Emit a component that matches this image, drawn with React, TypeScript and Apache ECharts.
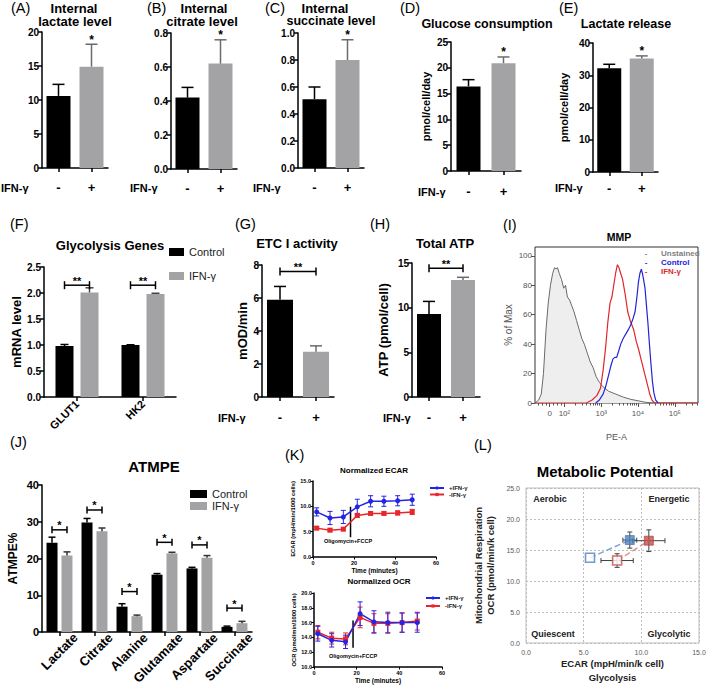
import React, { useEffect, useRef } from 'react';
import * as echarts from 'echarts';

const FAMILY = 'Liberation Sans';
const FONT_STACK = '"Liberation Sans", Arial, sans-serif';
const BLACK = '#000000';
const GREY = '#a3a3a5';
const GREY_ERR = '#6b6b6d';
const FLOW_BLUE = '#2323d8';
const FLOW_RED = '#e2262b';
const K_BLUE = '#2424e6';
const K_RED = '#e8262b';
const L_BLUE = '#4f81bd';
const L_RED = '#c0504d';

// ---------- (A)-(E) ----------
const treatment = ['-', '+'];
const lactateLevel = [10.6, 14.9];
const lactateLevelTop = [12.3, 18.2];
const citrateLevel = [0.42, 0.62];
const citrateLevelTop = [0.48, 0.76];
const succinateLevel = [0.51, 0.8];
const succinateLevelTop = [0.6, 0.95];
const glucoseConsumption = [16.4, 20.9];
const glucoseConsumptionTop = [17.7, 22.1];
const lactateRelease = [32.2, 35.2];
const lactateReleaseTop = [33.4, 36.0];
const singleStars = ['', '*'];

// ---------- (F) ----------
const genes = ['GLUT1', 'HK2'];
const geneControl = [0.98, 1.0];
const geneControlTop = [1.01, 1.005];
const geneIFN = [2.01, 1.98];
const geneIFNTop = [2.1, 1.995];
const geneBracket = [2.15, 2.15];
const geneMarks = ['**', '**'];

// ---------- (G) / (H) ----------
const etcActivity = [5.9, 2.75];
const etcActivityTop = [6.7, 3.1];
const etcBracket = 7.6;
const totalATP = [9.3, 13.1];
const totalATPTop = [10.7, 13.4];
const atpBracket = 14.4;

// ---------- (I) MMP histogram (x = display decade position) ----------
const flowTickPos = [1.6, 2, 3, 4, 5];
const flowTickLabel = ['0', '10²', '10³', '10⁴', '10⁵'];
const unstainedX = [1.2, 1.3, 1.37, 1.43, 1.5, 1.56, 1.62, 1.68, 1.73, 1.77, 1.81, 1.86, 1.92, 1.98, 2.03, 2.08, 2.14, 2.2, 2.26, 2.33, 2.4, 2.47, 2.54, 2.62, 2.7, 2.78, 2.86, 2.95, 3.05, 3.2, 3.4, 3.6, 3.8, 4.0, 4.2, 4.4];
const unstainedY = [0, 2, 6, 20, 50, 68, 80, 88, 92, 91, 92, 88, 84, 78, 80, 72, 70, 66, 62, 56, 50, 44, 40, 34, 28, 24, 18, 14, 11, 8, 6, 4, 2.5, 1.5, 0.5, 0];
const ifnFlowX = [1.2, 2.6, 2.75, 2.88, 2.98, 3.05, 3.12, 3.18, 3.24, 3.29, 3.34, 3.39, 3.44, 3.48, 3.53, 3.58, 3.65, 3.72, 3.8, 3.88, 3.95, 4.02, 4.1, 4.18, 4.25, 4.32, 4.38, 4.45, 5.63];
const ifnFlowY = [0, 0, 2, 5, 10, 22, 38, 55, 68, 72, 80, 88, 94, 92, 88, 84, 74, 62, 55, 50, 42, 36, 28, 20, 13, 6, 2, 0, 0];
const controlFlowX = [2.85, 2.95, 3.05, 3.12, 3.2, 3.27, 3.32, 3.37, 3.42, 3.47, 3.53, 3.6, 3.67, 3.74, 3.8, 3.86, 3.92, 3.97, 4.01, 4.05, 4.09, 4.12, 4.15, 4.19, 4.23, 4.27, 4.31, 4.35, 4.39, 4.43, 4.48, 4.55];
const controlFlowY = [0, 2, 6, 11, 19, 26, 30, 31, 31, 35, 40, 44, 47, 50, 53, 57, 62, 72, 82, 88, 91, 88, 84, 78, 66, 54, 40, 27, 15, 7, 2, 0];

// ---------- (J) ATMPE ----------
const metabolites = ['Lactate', 'Citrate', 'Alanine', 'Glutamate', 'Aspartate', 'Succinate'];
const atmpeControl = [24.3, 29.8, 6.9, 15.6, 17.3, 1.4];
const atmpeControlTop = [25.8, 30.9, 7.7, 15.9, 17.6, 1.6];
const atmpeIFN = [20.8, 27.4, 4.3, 21.4, 20.2, 2.4];
const atmpeIFNTop = [21.8, 28.3, 4.6, 21.7, 20.8, 2.9];
const atmpeBracket = [27.8, 33.2, 11.0, 24.4, 23.7, 6.5];
const atmpeMarks = ['*', '*', '*', '*', '*', '*'];

// ---------- (K) Seahorse ----------
const seahorseTime = [1.8, 8.3, 14.8, 21.6, 28.1, 34.6, 41.3, 48.4];
const ecarPlus = [8.9, 7.7, 7.9, 9.9, 11.0, 11.0, 11.1, 11.3];
const ecarPlusSd = [0.8, 1.3, 1.3, 1.5, 1.1, 1.0, 1.0, 1.1];
const ecarMinus = [5.7, 5.3, 5.5, 8.2, 8.6, 8.6, 8.7, 8.9];
const ecarMinusSd = [0.3, 0.3, 0.3, 0.4, 0.3, 0.3, 0.4, 0.5];
const ocrPlus = [14.5, 13.6, 13.4, 17.2, 16.1, 16.0, 16.0, 16.0];
const ocrPlusSd = [1.0, 0.9, 0.9, 1.6, 1.5, 1.4, 1.3, 1.3];
const ocrMinus = [14.7, 13.9, 13.8, 16.7, 15.9, 15.9, 16.0, 16.2];
const ocrMinusSd = [0.9, 0.8, 0.8, 1.4, 1.3, 1.3, 1.3, 1.2];
const injectionTime = 18.3;
const ecarInjection = [3.9, 9.9];
const ocrInjection = [12.6, 16.3];

// ---------- (L) Metabolic potential [ECAR, OCR] ----------
const blueBaseline = [5.55, 13.75];
const blueStressed = [9.0, 16.6];
const blueStressedErr = [0.6, 1.3];
const redBaseline = [7.9, 13.3];
const redBaselineErr = [1.4, 1.1];
const redStressed = [10.65, 16.5];
const redStressedErr = [1.4, 1.75];

function buildOption(): any {
  const grid: any[] = [];
  const xAxis: any[] = [];
  const yAxis: any[] = [];
  const series: any[] = [];
  const legend: any[] = [];
  const graphic: any[] = [];

  const addGrid = (box: any, xa: any, ya: any) => {
    const gridIndex = grid.length;
    grid.push({ show: false, ...box });
    const xi = xAxis.length;
    xAxis.push({ ...xa, gridIndex });
    const yi = yAxis.length;
    yAxis.push({ ...ya, gridIndex });
    return { xi, yi, gridIndex };
  };

  const lineEl = (x1: number, y1: number, x2: number, y2: number, stroke: string, lineWidth = 1.5) => ({
    type: 'line', shape: { x1, y1, x2, y2 }, style: { stroke, lineWidth },
  });
  const textEl = (x: number, y: number, s: string, size: number, color = BLACK) => ({
    type: 'text', x, y,
    style: { text: s, fill: color, font: `bold ${size}px ${FONT_STACK}`, align: 'center', verticalAlign: 'middle', textAlign: 'center', textVerticalAlign: 'middle' },
  });
  const txt = (x: number, y: number, s: string, size: number, weight = 'bold', align = 'center', color = BLACK) => ({
    type: 'text', x, y, silent: true, z: 20,
    style: { text: s, fill: color, font: `${weight} ${size}px ${FONT_STACK}`, align, verticalAlign: 'middle', textAlign: align, textVerticalAlign: 'middle' },
  });

  const gpYAxis = (min: number, max: number, interval: number, dec: number, fontSize = 10, name = '', nameGap = 0, nameSize = 13) => ({
    type: 'value', min, max, interval,
    axisLine: { show: true, lineStyle: { color: BLACK, width: 1.5 } },
    axisTick: { show: true, length: 4, lineStyle: { color: BLACK, width: 1.5 } },
    axisLabel: { fontFamily: FAMILY, fontWeight: 'bold', fontSize, color: BLACK, margin: 3, formatter: (v: number) => v.toFixed(dec) },
    splitLine: { show: false },
    name, nameLocation: 'middle', nameGap, nameRotate: 90,
    nameTextStyle: { fontFamily: FAMILY, fontWeight: 'bold', fontSize: nameSize, color: BLACK },
  });
  const gpXAxis = (data: string[], fontSize: number, margin: number, rotate = 0, showLabel = true) => ({
    type: 'category', data,
    axisLine: { show: true, onZero: false, lineStyle: { color: BLACK, width: 1.5 } },
    axisTick: { show: true, alignWithLabel: true, length: 4, lineStyle: { color: BLACK, width: 1.5 } },
    axisLabel: { show: showLabel, fontFamily: FAMILY, fontWeight: 'bold', fontSize, color: BLACK, margin, rotate, interval: 0 },
    splitLine: { show: false },
  });

  const upErr = (ax: any, values: number[], tops: number[], offset: number, cap: number, colors: string[], marks?: string[]) => ({
    type: 'custom', xAxisIndex: ax.xi, yAxisIndex: ax.yi, silent: true, z: 3,
    encode: { x: 0, y: [1, 2] },
    data: values.map((v, i) => [i, v, tops[i]]),
    renderItem: (params: any, api: any) => {
      const i = params.dataIndex;
      const base = api.coord([api.value(0), api.value(1)]);
      const top = api.coord([api.value(0), api.value(2)]);
      const cx = base[0] + offset;
      const children: any[] = [
        lineEl(cx, base[1], cx, top[1], colors[i]),
        lineEl(cx - cap / 2, top[1], cx + cap / 2, top[1], colors[i]),
      ];
      if (marks && marks[i]) children.push(textEl(cx, top[1] - 4.5, marks[i], 12));
      return { type: 'group', children };
    },
  });

  const brackets = (ax: any, spans: number[][], off1: number, off2: number, marks: string[], tick: number, markSize: number) => ({
    type: 'custom', xAxisIndex: ax.xi, yAxisIndex: ax.yi, silent: true, z: 3,
    encode: { x: [0, 1], y: 2 },
    data: spans,
    renderItem: (params: any, api: any) => {
      const a = api.coord([api.value(0), api.value(2)]);
      const b = api.coord([api.value(1), api.value(2)]);
      const x1 = a[0] + off1;
      const x2 = b[0] + off2;
      const y = a[1];
      return {
        type: 'group',
        children: [
          lineEl(x1, y, x2, y, BLACK),
          lineEl(x1, y - tick, x1, y + tick, BLACK),
          lineEl(x2, y - tick, x2, y + tick, BLACK),
          textEl((x1 + x2) / 2, y - 4.5, marks[params.dataIndex], markSize),
        ],
      };
    },
  });

  // ---------- A-E ----------
  const simplePanels = [
    { box: { left: 42, top: 32, width: 66, height: 136 }, max: 20, int: 5, dec: 0, v: lactateLevel, t: lactateLevelTop, margin: 13, name: '', gap: 0 },
    { box: { left: 171, top: 33, width: 66, height: 136 }, max: 0.8, int: 0.2, dec: 1, v: citrateLevel, t: citrateLevelTop, margin: 13, name: '', gap: 0 },
    { box: { left: 298, top: 33, width: 66, height: 135 }, max: 1.0, int: 0.2, dec: 1, v: succinateLevel, t: succinateLevelTop, margin: 13, name: '', gap: 0 },
    { box: { left: 451, top: 42, width: 70, height: 129 }, max: 25, int: 5, dec: 0, v: glucoseConsumption, t: glucoseConsumptionTop, margin: 14, name: 'pmol/cell/day', gap: 20 },
    { box: { left: 593, top: 43, width: 65, height: 129 }, max: 40, int: 10, dec: 0, v: lactateRelease, t: lactateReleaseTop, margin: 10, name: 'pmol/cell/day', gap: 24 },
  ];
  simplePanels.forEach((p) => {
    const ax = addGrid(p.box, gpXAxis(treatment, 13, p.margin), gpYAxis(0, p.max, p.int, p.dec, 10, p.name, p.gap, 11));
    series.push({
      type: 'bar', xAxisIndex: ax.xi, yAxisIndex: ax.yi, barWidth: 24,
      data: p.v.map((v, i) => ({ value: v, itemStyle: { color: i === 0 ? BLACK : GREY } })),
    });
    series.push(upErr(ax, p.v, p.t, 0, 12, [BLACK, GREY_ERR], singleStars));
  });

  // ---------- F ----------
  const f = addGrid({ left: 44, top: 267, width: 132, height: 130 }, gpXAxis(genes, 11, 5, 45), gpYAxis(0, 2.5, 0.5, 1, 10, 'mRNA level', 17, 13));
  series.push({ type: 'bar', name: 'Control', xAxisIndex: f.xi, yAxisIndex: f.yi, data: geneControl, barWidth: 18, barGap: '39%', itemStyle: { color: BLACK } });
  series.push({ type: 'bar', name: 'IFN-γ', xAxisIndex: f.xi, yAxisIndex: f.yi, data: geneIFN, barWidth: 18, barGap: '39%', itemStyle: { color: GREY } });
  series.push(upErr(f, geneControl, geneControlTop, -12.5, 8, [BLACK, BLACK]));
  series.push(upErr(f, geneIFN, geneIFNTop, 12.5, 8, ['#444', '#444']));
  series.push(brackets(f, genes.map((_, i) => [i, i, geneBracket[i]]), -12.5, 12.5, geneMarks, 4, 11));
  legend.push({
    left: 169, top: 246.5, orient: 'vertical', padding: 0, itemWidth: 15, itemHeight: 8, itemGap: 13, icon: 'rect', selectedMode: false,
    textStyle: { fontFamily: FAMILY, fontSize: 11, color: '#222' }, data: ['Control', 'IFN-γ'],
  });

  // ---------- G ----------
  const g = addGrid({ left: 262, top: 265, width: 72, height: 132 }, gpXAxis(treatment, 13, 14), gpYAxis(0, 8, 2, 0, 10, 'mOD/min', 13.5, 13));
  series.push({ type: 'bar', xAxisIndex: g.xi, yAxisIndex: g.yi, barWidth: 26, data: etcActivity.map((v, i) => ({ value: v, itemStyle: { color: i === 0 ? BLACK : GREY } })) });
  series.push(upErr(g, etcActivity, etcActivityTop, 0, 12, [BLACK, GREY_ERR]));
  series.push(brackets(g, [[0, 1, etcBracket]], 0, 0, ['**'], 4, 11));

  // ---------- H ----------
  const h = addGrid({ left: 412, top: 263, width: 68, height: 134 }, gpXAxis(treatment, 13, 14), gpYAxis(0, 15, 5, 0, 10, 'ATP (pmol/cell)', 22, 13));
  series.push({ type: 'bar', xAxisIndex: h.xi, yAxisIndex: h.yi, barWidth: 24, data: totalATP.map((v, i) => ({ value: v, itemStyle: { color: i === 0 ? BLACK : GREY } })) });
  series.push(upErr(h, totalATP, totalATPTop, 0, 12, [BLACK, GREY_ERR]));
  series.push(brackets(h, [[0, 1, atpBracket]], 0, 0, ['**'], 4, 11));

  // ---------- I ----------
  const minorTicks: number[] = [1.3, 1.4, 1.5, 1.7, 1.8, 1.9];
  for (let n = 2; n <= 5; n++) for (let k = 2; k <= 9; k++) { const p = n + Math.log10(k); if (p < 5.62) minorTicks.push(p); }
  const flowFmt = (v: number) => { const i = flowTickPos.findIndex((p) => Math.abs(p - v) < 1e-6); return i >= 0 ? flowTickLabel[i] : ''; };
  const iAx = addGrid(
    { left: 535, top: 247, width: 163, height: 156, show: true, borderColor: '#333', borderWidth: 1 },
    {
      type: 'value', min: 1.2, max: 5.63, position: 'bottom',
      axisLine: { show: false },
      axisTick: { show: true, length: 4, customValues: flowTickPos, lineStyle: { color: '#555' } },
      axisLabel: { customValues: flowTickPos, formatter: flowFmt, fontFamily: FAMILY, fontSize: 8, color: '#555', margin: 6 },
      splitLine: { show: false },
      name: 'PE-A', nameLocation: 'middle', nameGap: 29, nameTextStyle: { fontFamily: FAMILY, fontSize: 9, color: '#555' },
    },
    {
      type: 'value', min: 0, max: 106,
      axisLine: { show: false },
      axisTick: { show: true, length: 4, customValues: [0, 20, 40, 60, 80, 100], lineStyle: { color: '#555' } },
      axisLabel: { customValues: [0, 20, 40, 60, 80, 100], fontFamily: FAMILY, fontSize: 8, color: '#555', margin: 3 },
      splitLine: { show: false },
      name: '% of Max', nameLocation: 'middle', nameGap: 22, nameRotate: 90, nameTextStyle: { fontFamily: FAMILY, fontSize: 10, color: '#555' },
    },
  );
  xAxis.push({
    type: 'value', min: 1.2, max: 5.63, position: 'bottom', gridIndex: iAx.gridIndex,
    axisLine: { show: false }, axisLabel: { show: false }, splitLine: { show: false },
    axisTick: { show: true, length: 2.5, customValues: minorTicks, lineStyle: { color: '#555' } },
  });
  series.push({
    type: 'line', name: 'MMP Unstained', xAxisIndex: iAx.xi, yAxisIndex: iAx.yi, showSymbol: false, symbol: 'none',
    data: unstainedX.map((x, i) => [x, unstainedY[i]]),
    lineStyle: { color: '#6a6a6a', width: 1 }, areaStyle: { color: '#eeeeee', opacity: 1 },
  });
  series.push({
    type: 'line', name: 'MMP IFN', xAxisIndex: iAx.xi, yAxisIndex: iAx.yi, symbol: 'none',
    data: ifnFlowX.map((x, i) => [x, ifnFlowY[i]]), lineStyle: { color: FLOW_RED, width: 1.2 },
  });
  series.push({
    type: 'line', name: 'MMP Control', xAxisIndex: iAx.xi, yAxisIndex: iAx.yi, symbol: 'none',
    data: controlFlowX.map((x, i) => [x, controlFlowY[i]]), lineStyle: { color: FLOW_BLUE, width: 1.2 },
  });

  // ---------- J ----------
  const j = addGrid({ left: 42, top: 485, width: 210, height: 147 }, gpXAxis(metabolites, 12, 5, 45, false), gpYAxis(0, 40, 10, 0, 11, 'ATMPE%', 23, 12));
  series.push({ type: 'bar', name: 'Control', xAxisIndex: j.xi, yAxisIndex: j.yi, data: atmpeControl, barWidth: 11, barGap: '36%', itemStyle: { color: BLACK } });
  series.push({ type: 'bar', name: 'IFN-γ', xAxisIndex: j.xi, yAxisIndex: j.yi, data: atmpeIFN, barWidth: 11, barGap: '36%', itemStyle: { color: GREY } });
  series.push(upErr(j, atmpeControl, atmpeControlTop, -7.5, 7, metabolites.map(() => BLACK)));
  series.push(upErr(j, atmpeIFN, atmpeIFNTop, 7.5, 7, metabolites.map(() => '#333')));
  series.push(brackets(j, metabolites.map((_, i) => [i, i, atmpeBracket[i]]), -7.5, 7.5, atmpeMarks, 3.5, 11));
  // label-only category axis, offset to the right as in the GraphPad layout
  addGrid(
    { left: 58, top: 485, width: 210, height: 147 },
    {
      type: 'category', data: metabolites,
      axisLine: { show: false }, axisTick: { show: false }, splitLine: { show: false },
      axisLabel: { fontFamily: FAMILY, fontWeight: 'bold', fontSize: 13, color: BLACK, margin: 5, rotate: 45, interval: 0 },
    },
    { type: 'value', min: 0, max: 40, show: false },
  );
  legend.push({
    left: 190, top: 488, orient: 'vertical', padding: 0, itemWidth: 17, itemHeight: 8, itemGap: 0, icon: 'rect', selectedMode: false,
    textStyle: { fontFamily: FAMILY, fontSize: 11, lineHeight: 12, color: '#222' }, data: ['Control', 'IFN-γ'],
  });

  // ---------- K ----------
  const kX = (gap: number) => ({
    type: 'value', min: 0, max: 60, interval: 20,
    axisLine: { show: true, onZero: false, lineStyle: { color: BLACK, width: 1.5 } },
    axisTick: { show: true, length: 2.5, lineStyle: { color: BLACK, width: 1 } },
    axisLabel: { fontFamily: FAMILY, fontWeight: 'bold', fontSize: 5.5, color: BLACK, margin: 3 },
    splitLine: { show: false },
    name: 'Time (minutes)', nameLocation: 'middle', nameGap: gap,
    nameTextStyle: { fontFamily: FAMILY, fontWeight: 'bold', fontSize: 6.5, color: BLACK },
  });
  const kY = (min: number, max: number, interval: number, name: string) => ({
    type: 'value', min, max, interval,
    axisLine: { show: true, lineStyle: { color: BLACK, width: 1.5 } },
    axisTick: { show: true, length: 2.5, lineStyle: { color: BLACK, width: 1 } },
    axisLabel: { fontFamily: FAMILY, fontWeight: 'bold', fontSize: 5.5, color: BLACK, margin: 2, formatter: (v: number) => v.toFixed(1) },
    splitLine: { show: false },
    name, nameLocation: 'middle', nameGap: 15, nameRotate: 90,
    nameTextStyle: { fontFamily: FAMILY, fontWeight: 'bold', fontSize: 5.8, color: BLACK },
  });
  const symErr = (ax: any, xs: number[], vals: number[], sds: number[], color: string) => ({
    type: 'custom', xAxisIndex: ax.xi, yAxisIndex: ax.yi, silent: true, z: 2,
    encode: { x: 0, y: [1, 2] },
    data: xs.map((t, i) => [t, vals[i] - sds[i], vals[i] + sds[i]]),
    renderItem: (params: any, api: any) => {
      const lo = api.coord([api.value(0), api.value(1)]);
      const hi = api.coord([api.value(0), api.value(2)]);
      return {
        type: 'group',
        children: [
          lineEl(lo[0], lo[1], hi[0], hi[1], color, 1),
          lineEl(lo[0] - 2.5, lo[1], lo[0] + 2.5, lo[1], color, 1),
          lineEl(hi[0] - 2.5, hi[1], hi[0] + 2.5, hi[1], color, 1),
        ],
      };
    },
  });
  const kLine = (ax: any, name: string, xs: number[], vals: number[], color: string, symbol: string) => ({
    type: 'line', name, xAxisIndex: ax.xi, yAxisIndex: ax.yi, z: 4,
    data: xs.map((t, i) => [t, vals[i]]), symbol, symbolSize: 5, showSymbol: true,
    lineStyle: { color, width: 1.5 }, itemStyle: { color },
  });
  const e1 = addGrid({ left: 313, top: 481, width: 123, height: 76 }, kX(8), kY(0, 15, 5, 'ECAR (mpH/min/1000 cells)'));
  series.push(symErr(e1, seahorseTime, ecarMinus, ecarMinusSd, K_RED));
  series.push(symErr(e1, seahorseTime, ecarPlus, ecarPlusSd, K_BLUE));
  series.push(kLine(e1, '-IFN-γ', seahorseTime, ecarMinus, K_RED, 'rect'));
  series.push(kLine(e1, '+IFN-γ', seahorseTime, ecarPlus, K_BLUE, 'circle'));
  series.push({
    type: 'line', name: 'ECAR injection', xAxisIndex: e1.xi, yAxisIndex: e1.yi, symbol: 'none',
    data: ecarInjection.map((v) => [injectionTime, v]), lineStyle: { color: BLACK, width: 1.5 },
  });
  const o1 = addGrid({ left: 314, top: 593, width: 128, height: 74 }, kX(9), kY(10, 20, 2, 'OCR (pmol/min/1000 cells)'));
  series.push(symErr(o1, seahorseTime, ocrMinus, ocrMinusSd, K_RED));
  series.push(symErr(o1, seahorseTime, ocrPlus, ocrPlusSd, K_BLUE));
  series.push(kLine(o1, '-IFN-γ', seahorseTime, ocrMinus, K_RED, 'rect'));
  series.push(kLine(o1, '+IFN-γ', seahorseTime, ocrPlus, K_BLUE, 'circle'));
  series.push({
    type: 'line', name: 'OCR injection', xAxisIndex: o1.xi, yAxisIndex: o1.yi, symbol: 'none',
    data: ocrInjection.map((v) => [injectionTime, v]), lineStyle: { color: BLACK, width: 1.5 },
  });
  const kLegend = (left: number, top: number, gap: number) => ({
    left, top, orient: 'vertical', padding: 0, itemWidth: 14, itemHeight: 4, itemGap: gap, selectedMode: false,
    textStyle: { fontFamily: FAMILY, fontWeight: 'bold', fontSize: 6, lineHeight: 6, color: '#222' }, data: ['+IFN-γ', '-IFN-γ'],
  });
  legend.push(kLegend(429, 485, 0.5));
  legend.push(kLegend(425, 595, 2));

  // ---------- L ----------
  const l = addGrid(
    { left: 526, top: 488, width: 173, height: 155, show: true, borderColor: '#bfbfbf', borderWidth: 1 },
    {
      type: 'value', min: 0, max: 15, interval: 5,
      axisLine: { show: false }, axisTick: { show: false },
      axisLabel: { fontFamily: FAMILY, fontSize: 7, color: '#595959', margin: 6, formatter: (v: number) => v.toFixed(1) },
      splitLine: { show: true, lineStyle: { color: '#bdbdbd', type: [2, 2], width: 1 } },
      name: 'ECAR (mpH/min/k cell)\nGlycolysis', nameLocation: 'middle', nameGap: 13,
      nameTextStyle: { fontFamily: FAMILY, fontWeight: 'bold', fontSize: 9.5, lineHeight: 14, color: '#222' },
    },
    {
      type: 'value', min: 0, max: 25, interval: 5,
      axisLine: { show: false }, axisTick: { show: false },
      axisLabel: { fontFamily: FAMILY, fontSize: 7, color: '#595959', margin: 6, formatter: (v: number) => v.toFixed(1) },
      splitLine: { show: true, lineStyle: { color: '#bdbdbd', type: [2, 2], width: 1 } },
      name: 'Mitochondrial Respiration\nOCR (pmol/min/k cell)', nameLocation: 'middle', nameGap: 30, nameRotate: 90,
      nameTextStyle: { fontFamily: FAMILY, fontWeight: 'bold', fontSize: 9.5, lineHeight: 12, color: '#222' },
    },
  );
  series.push({
    type: 'line', name: 'L blue path', xAxisIndex: l.xi, yAxisIndex: l.yi, symbol: 'none',
    data: [blueBaseline, blueStressed], lineStyle: { color: '#7ea4d4', type: 'dashed', width: 1.5 },
  });
  series.push({
    type: 'line', name: 'L red path', xAxisIndex: l.xi, yAxisIndex: l.yi, symbol: 'none',
    data: [redBaseline, redStressed], lineStyle: { color: '#d99795', type: 'dashed', width: 1.5 },
  });
  const lErrPts = [
    [blueStressed[0], blueStressed[1], blueStressedErr[0], blueStressedErr[1]],
    [redBaseline[0], redBaseline[1], redBaselineErr[0], redBaselineErr[1]],
    [redStressed[0], redStressed[1], redStressedErr[0], redStressedErr[1]],
  ];
  series.push({
    type: 'custom', xAxisIndex: l.xi, yAxisIndex: l.yi, silent: true, z: 3,
    encode: { x: 0, y: 1 },
    data: lErrPts,
    renderItem: (params: any, api: any) => {
      const x = api.value(0), y = api.value(1), xe = api.value(2), ye = api.value(3);
      const l0 = api.coord([x - xe, y]);
      const r0 = api.coord([x + xe, y]);
      const t0 = api.coord([x, y + ye]);
      const b0 = api.coord([x, y - ye]);
      const c = '#404040';
      return {
        type: 'group',
        children: [
          lineEl(l0[0], l0[1], r0[0], r0[1], c, 1),
          lineEl(l0[0], l0[1] - 2.5, l0[0], l0[1] + 2.5, c, 1),
          lineEl(r0[0], r0[1] - 2.5, r0[0], r0[1] + 2.5, c, 1),
          lineEl(t0[0], t0[1], b0[0], b0[1], c, 1),
          lineEl(t0[0] - 2.5, t0[1], t0[0] + 2.5, t0[1], c, 1),
          lineEl(b0[0] - 2.5, b0[1], b0[0] + 2.5, b0[1], c, 1),
        ],
      };
    },
  });
  series.push({
    type: 'scatter', name: 'L points', xAxisIndex: l.xi, yAxisIndex: l.yi, symbol: 'rect', symbolSize: 9, z: 5,
    data: [
      { value: blueBaseline, itemStyle: { color: '#ffffff', borderColor: L_BLUE, borderWidth: 1.6 } },
      { value: blueStressed, itemStyle: { color: L_BLUE, borderColor: '#3a6aa6', borderWidth: 0.8 } },
      { value: redBaseline, itemStyle: { color: '#ffffff', borderColor: L_RED, borderWidth: 1.6 } },
      { value: redStressed, itemStyle: { color: L_RED, borderColor: '#a03c39', borderWidth: 0.8 } },
    ],
  });

  // ---------- texts ----------
  const panelLabels: [number, number, string][] = [
    [11, 8, '(A)'], [147, 8, '(B)'], [265, 8, '(C)'], [400, 8, '(D)'], [559, 8, '(E)'],
    [10, 224, '(F)'], [235, 224, '(G)'], [370, 224, '(H)'], [503, 225, '(I)'],
    [10, 442, '(J)'], [285, 455, '(K)'], [474, 445, '(L)'],
  ];
  panelLabels.forEach(([x, y, s]) => graphic.push(txt(x, y, s, 14.5, 'normal', 'left')));
  const titles: [number, number, string, number][] = [
    [74, 8, 'Internal', 13], [75, 21.5, 'lactate level', 13],
    [204, 8, 'Internal', 13], [202, 21.5, 'citrate level', 13],
    [325, 8, 'Internal', 13], [331, 21, 'succinate level', 12.5],
    [487, 24, 'Glucose consumption', 12.5], [626, 24, 'Lactate release', 12.5],
    [110, 245, 'Glycolysis Genes', 13], [297, 243, 'ETC I activity', 13], [445, 243, 'Total ATP', 13],
    [619, 237, 'MMP', 10.5], [154, 466, 'ATMPE', 15],
    [374, 470, 'Normalized ECAR', 8], [379, 581, 'Normalized OCR', 8],
    [605, 471, 'Metabolic Potential', 15],
  ];
  titles.forEach(([x, y, s, size]) => graphic.push(txt(x, y, s, size)));
  const ifnLabels: [number, number][] = [[1, 188], [130, 188], [253, 188], [418, 192], [555, 188], [218, 418], [383, 418]];
  ifnLabels.forEach(([x, y]) => graphic.push(txt(x, y, 'IFN-γ', 11, 'bold', 'left')));
  const iLegend: [number, string, string][] = [[253, 'Unstained', '#7f7f7f'], [262, 'Control', FLOW_BLUE], [271, 'IFN-γ', FLOW_RED]];
  iLegend.forEach(([y, s, c]) => {
    graphic.push(txt(646, y, '-', 8, 'bold', 'center', c));
    graphic.push(txt(661, y, s, 8, 'bold', 'left', c));
  });
  graphic.push(txt(348, 541, 'Oligomycin+FCCP', 5.5));
  graphic.push(txt(353, 656, 'Oligomycin+FCCP', 5.5));
  const quadrants: [number, number, string][] = [[550, 499, 'Aerobic'], [669, 499, 'Energetic'], [553, 634, 'Quiescent'], [669, 634, 'Glycolytic']];
  quadrants.forEach(([x, y, s]) => graphic.push(txt(x, y, s, 9, 'bold', 'center', '#222')));

  return {
    animation: false,
    backgroundColor: '#ffffff',
    textStyle: { fontFamily: FAMILY },
    grid, xAxis, yAxis, series, legend,
    graphic: { elements: graphic },
  };
}

export default function App() {
  const ref = useRef<HTMLDivElement>(null);
  useEffect(() => {
    if (!ref.current) return;
    const chart = echarts.init(ref.current, undefined, { renderer: 'svg' });
    chart.setOption(buildOption());
    return () => chart.dispose();
  }, []);
  return <div ref={ref} style={{ position: 'fixed', left: 0, top: 0, width: 709, height: 687, background: '#fff' }} />;
}
